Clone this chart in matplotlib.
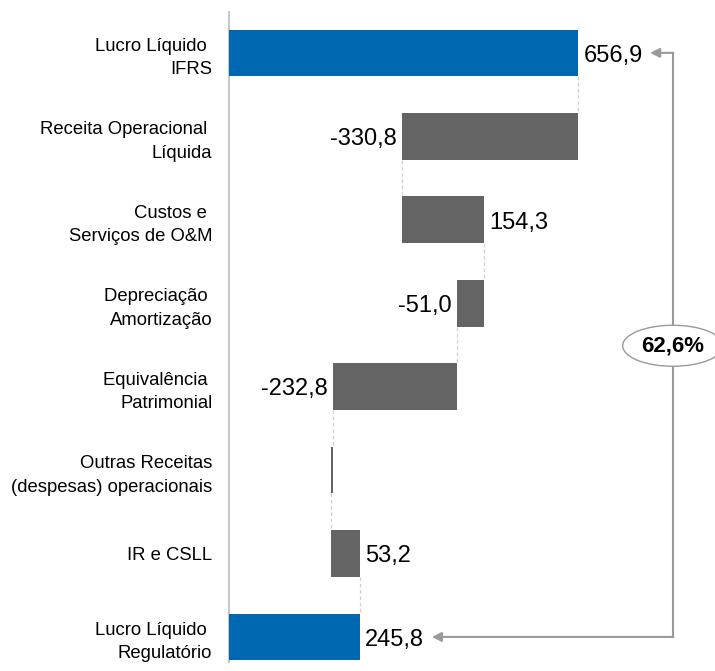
import matplotlib
matplotlib.use("Agg")
import matplotlib.pyplot as plt
import numpy as np
from matplotlib import font_manager

# font: narrow arial-like if available
names = {f.name for f in font_manager.fontManager.ttflist}
fam = "Liberation Sans Narrow" if "Liberation Sans Narrow" in names else "Liberation Sans"
plt.rcParams["font.family"] = [fam, "DejaVu Sans"]

categorias = ["Lucro Líquido \nIFRS", "Receita Operacional \nLíquida",
              "Custos e \nServiços de O&M", "Depreciação \nAmortização",
              "Equivalência \nPatrimonial", "Outras Receitas\n(despesas) operacionais",
              "IR e CSLL", "Lucro Líquido \nRegulatório"]
valores = [656.9, -330.8, 154.3, -51.0, -232.8, -4.0, 53.2, 245.8]
rotulos = ["656,9", "-330,8", "154,3", "-51,0", "-232,8", "", "53,2", "245,8"]
total = [True, False, False, False, False, False, False, True]
percentual = "62,6%"

azul = "#0067b1"
cinza = "#646464"
cinza_seta = "#9a9a9a"

fig = plt.figure(figsize=(7.15, 6.71), dpi=100)
ax = fig.add_axes([229 / 715, 9 / 671, 480 / 715, 650 / 671])

# waterfall starts / ends
inicio, fim = [], []
acum = 0.0
for v, t in zip(valores, total):
    if t:
        inicio.append(0.0)
        fim.append(v)
        acum = v
    else:
        inicio.append(acum)
        acum = acum + v
        fim.append(acum)

y = np.arange(len(valores))
h = 0.56
esq = [min(a, b) for a, b in zip(inicio, fim)]
larg = [abs(b - a) for a, b in zip(inicio, fim)]
cores = [azul if t else cinza for t in total]
ax.barh(y, larg, left=esq, height=h, color=cores, zorder=3)

# dashed connectors
for i in range(len(valores) - 1):
    ax.plot([fim[i], fim[i]], [y[i] + h / 2, y[i + 1] - h / 2],
            color="#d0d0d0", lw=0.9, ls=(0, (3, 2)), zorder=2)

# value labels
for i, r in enumerate(rotulos):
    if not r:
        continue
    if valores[i] >= 0:
        ax.annotate(r, (max(inicio[i], fim[i]), y[i]), xytext=(4, -2),
                    textcoords="offset points", ha="left", va="center", fontsize=17)
    else:
        ax.annotate(r, (min(inicio[i], fim[i]), y[i]), xytext=(-4, -2),
                    textcoords="offset points", ha="right", va="center", fontsize=17)

# bracket with the ratio
bx = 836
ax.plot([bx, bx], [0, 7], color=cinza_seta, lw=1.5, zorder=1)
ax.annotate("", xy=(793, 0), xytext=(bx + 0.8, 0),
            arrowprops=dict(arrowstyle="-|>", color=cinza_seta, lw=1.5,
                            mutation_scale=14, shrinkA=0, shrinkB=0))
ax.annotate("", xy=(382, 7), xytext=(bx + 0.8, 7),
            arrowprops=dict(arrowstyle="-|>", color=cinza_seta, lw=1.5,
                            mutation_scale=14, shrinkA=0, shrinkB=0))
ax.text(bx, 3.51, percentual, ha="center", va="center", fontsize=16,
        fontweight="bold", zorder=5,
        bbox=dict(boxstyle="ellipse,pad=0.18", fc="white", ec=cinza_seta, lw=1))

ax.set_xlim(0, 904)
ax.set_ylim(7.3, -0.49)
ax.set_yticks(y)
ax.set_yticklabels(categorias, fontsize=13.3, linespacing=1.5)
ax.tick_params(axis="y", length=0, pad=12)
ax.set_xticks([])
for s in ["top", "right", "bottom"]:
    ax.spines[s].set_visible(False)
ax.spines["left"].set_color("#c8c8c8")
ax.spines["left"].set_linewidth(1.5)

fig.savefig("out.png", dpi=100)
